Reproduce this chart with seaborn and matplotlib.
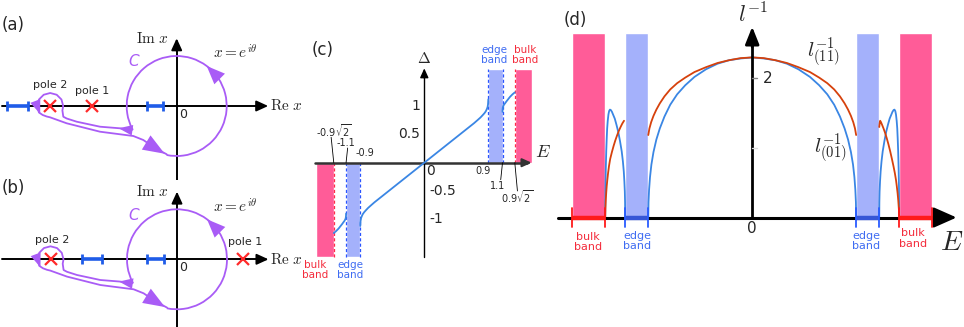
import numpy as np
import pandas as pd
import matplotlib
matplotlib.use("Agg")
import matplotlib.pyplot as plt
from matplotlib.patches import Arc
import seaborn as sns

sns.set_style("white")
plt.rcParams["font.family"] = ["DejaVu Sans"]
plt.rcParams["mathtext.fontset"] = "cm"

PURPLE = "#a95cf6"
POLE_RED = "#ff2a2a"
SEG_BLUE = "#1f5ce8"
PINK = "#ff5c98"
LAVENDER = "#a4b1fb"
TXT_RED = "#f42c3c"
TXT_BLUE = "#3f6cf2"
CURVE_BLUE = "#3a86e4"
CURVE_RED = "#d6410c"

# ---------------- data ----------------
# (a), (b): complex x plane, unit circle |x| = 1
poles_a = [-2.53, -1.70]
poles_b = [-2.53, 1.31]
cuts_a = [(-3.40, -2.97), (-0.60, -0.27)]
cuts_b = [(-1.90, -1.50), (-0.61, -0.26)]
circle_gap = (-101.7, 208.0)   # arc of C that is drawn (degrees)
# keyhole part of C: upper path -> loop round pole 2 -> lower path
key_x = [-0.883, -0.90, -1.134, -1.534, -2.00, -2.20, -2.268, -2.286, -2.27, -2.305, -2.40, -2.53,
         -2.66, -2.755, -2.79, -2.755, -2.68, -2.60, -2.534, -2.20, -1.534, -0.868, -0.668, -0.434, -0.20]
key_y = [-0.469, -0.48, -0.446, -0.414, -0.314, -0.25, -0.214, -0.089, 0.0, 0.13, 0.225, 0.26,
         0.225, 0.13, 0.0, -0.13, -0.18, -0.21, -0.226, -0.346, -0.514, -0.60, -0.68, -0.84, -0.966]

# (c): Delta(E)
edge_band = (0.9, 1.1)
bulk_band = (1.273, 1.52)
c_in_E = [-0.9, -0.899, -0.896, -0.89, -0.88, -0.865, -0.845, -0.82, -0.79, -0.75, -0.7, -0.6, -0.4, -0.2, 0.0,
          0.2, 0.4, 0.6, 0.7, 0.75, 0.79, 0.82, 0.845, 0.865, 0.88, 0.89, 0.896, 0.899, 0.9]
c_in_D = [-1.12, -1.07, -1.03, -0.985, -0.95, -0.91, -0.875, -0.84, -0.80, -0.755, -0.70, -0.60, -0.40, -0.20, 0.0,
          0.20, 0.40, 0.60, 0.70, 0.755, 0.80, 0.84, 0.875, 0.91, 0.95, 0.985, 1.03, 1.07, 1.12]
c_outR_E = [1.1, 1.101, 1.104, 1.11, 1.12, 1.135, 1.155, 1.18, 1.205, 1.24, 1.273]
c_outR_D = [0.90, 0.94, 0.975, 1.00, 1.025, 1.05, 1.085, 1.125, 1.165, 1.21, 1.245]
c_outL_E = [-1.273, -1.24, -1.205, -1.18, -1.155, -1.135, -1.12, -1.11, -1.104, -1.101, -1.1]
c_outL_D = [-1.245, -1.21, -1.165, -1.125, -1.085, -1.05, -1.025, -1.00, -0.975, -0.94, -0.90]
c_ticks = [1, 0.5, -0.5, -1]

# (d): inverse localisation lengths
d_band_top = 2.65
d_bulk = (1.273, 1.56)
b_in_E = [-0.9, -0.898, -0.893, -0.885, -0.873, -0.855, -0.83, -0.8, -0.76, -0.71, -0.65, -0.58, -0.5,
          -0.4, -0.3, -0.2, -0.1, 0.0, 0.1, 0.2, 0.3, 0.4, 0.5, 0.58, 0.65, 0.71, 0.76, 0.8, 0.83,
          0.855, 0.873, 0.885, 0.893, 0.898, 0.9]
b_in_v = [0.0, 0.22, 0.40, 0.58, 0.76, 0.94, 1.12, 1.28, 1.45, 1.62, 1.77, 1.90, 2.02,
          2.13, 2.21, 2.26, 2.285, 2.30, 2.285, 2.26, 2.21, 2.13, 2.02, 1.90, 1.77, 1.62, 1.45, 1.28, 1.12,
          0.94, 0.76, 0.58, 0.40, 0.22, 0.0]
r_in_E = [-0.9, -0.89, -0.875, -0.855, -0.83, -0.8, -0.76, -0.71, -0.65, -0.58, -0.5, -0.4, -0.3, -0.2,
          -0.1, 0.0, 0.1, 0.2, 0.3, 0.4, 0.5, 0.58, 0.65, 0.71, 0.76, 0.8, 0.83, 0.855, 0.875, 0.89, 0.9]
r_in_v = [1.185, 1.28, 1.37, 1.46, 1.55, 1.64, 1.74, 1.84, 1.93, 2.01, 2.09, 2.16, 2.22, 2.26,
          2.29, 2.30, 2.29, 2.26, 2.22, 2.16, 2.09, 2.01, 1.93, 1.84, 1.74, 1.64, 1.55, 1.46, 1.37, 1.28, 1.185]
b_outR_E = [1.1, 1.101, 1.103, 1.107, 1.112, 1.12, 1.13, 1.145, 1.16, 1.175, 1.19, 1.205, 1.215, 1.225,
            1.232, 1.239, 1.245, 1.251, 1.256, 1.26, 1.264, 1.268, 1.271, 1.273]
b_outR_v = [0.0, 0.22, 0.37, 0.52, 0.66, 0.81, 0.95, 1.10, 1.23, 1.33, 1.42, 1.48, 1.52, 1.545,
            1.55, 1.53, 1.48, 1.39, 1.28, 1.13, 0.95, 0.70, 0.42, 0.0]
b_outL_E = [-1.273, -1.271, -1.268, -1.264, -1.26, -1.256, -1.251, -1.245, -1.239, -1.232, -1.225, -1.215,
            -1.205, -1.19, -1.175, -1.16, -1.145, -1.13, -1.12, -1.112, -1.107, -1.103, -1.101, -1.1]
b_outL_v = [0.0, 0.42, 0.70, 0.95, 1.13, 1.28, 1.39, 1.48, 1.53, 1.55, 1.545, 1.52,
            1.48, 1.42, 1.33, 1.23, 1.10, 0.95, 0.81, 0.66, 0.52, 0.37, 0.22, 0.0]
r_outR_E = [1.1, 1.104, 1.108, 1.115, 1.125, 1.137, 1.15, 1.165, 1.18, 1.195, 1.21, 1.223, 1.235, 1.245,
            1.252, 1.259, 1.265, 1.27, 1.273]
r_outR_v = [1.30, 1.36, 1.39, 1.37, 1.33, 1.28, 1.22, 1.14, 1.05, 0.95, 0.84, 0.74, 0.64, 0.54,
            0.45, 0.35, 0.24, 0.12, 0.0]
r_outL_E = [-1.273, -1.271, -1.268, -1.264, -1.26, -1.254, -1.248, -1.24, -1.23, -1.215, -1.2, -1.185,
            -1.17, -1.155, -1.14, -1.125, -1.11]
r_outL_v = [0.0, 0.13, 0.25, 0.36, 0.45, 0.55, 0.64, 0.74, 0.84, 0.94, 1.03, 1.11,
            1.18, 1.245, 1.30, 1.35, 1.39]


def arrow(ax, start, end, color="black", lw=1.0, hl=0.6, hw=0.3, ms=10, z=3):
    ax.annotate("", xy=end, xytext=start,
                arrowprops=dict(arrowstyle=f"-|>,head_length={hl},head_width={hw}",
                                color=color, lw=lw, shrinkA=0, shrinkB=0,
                                mutation_scale=ms), zorder=z)


W, H = 964, 327
fig = plt.figure(figsize=(W / 100, H / 100), dpi=100)


def px_axes(x0, y0, x1, y1):
    return fig.add_axes([x0 / W, 1 - y1 / H, (x1 - x0) / W, (y1 - y0) / H])


# ---------------- (a) and (b) ----------------
def contour_panel(ax, poles, cuts, tag, pole_lbl, vbot):
    ax.set_axis_off()
    ax.plot([-3.5, 1.7], [0, 0], color="black", lw=1.4, zorder=1)
    arrow(ax, (1.6, 0), (1.83, 0), lw=1.4, hl=0.7, hw=0.32, ms=10)
    ax.plot([0, 0], [vbot, 1.2], color="black", lw=1.4, zorder=1)
    arrow(ax, (0, 1.1), (0, 1.354), lw=1.4, hl=0.7, hw=0.32, ms=10)
    for x0, x1 in cuts:
        ax.plot([x0, x1], [0, 0], color=SEG_BLUE, lw=2.6, solid_capstyle="butt", zorder=2)
        ax.plot([x0, x1], [0, 0], ls="none", marker="|", ms=7, mew=2, color=SEG_BLUE, zorder=2)
    ax.plot(poles, [0] * len(poles), ls="none", marker="x", ms=8, mew=1.6, color=POLE_RED, zorder=4)
    ax.add_patch(Arc((0, 0), 2, 2, theta1=circle_gap[0], theta2=circle_gap[1],
                     color=PURPLE, lw=1.3, zorder=3))
    ax.plot(key_x, key_y, color=PURPLE, lw=1.3, zorder=3, solid_joinstyle="round")
    arrow(ax, (0.79, 0.61), (0.60, 0.80), color=PURPLE, lw=0, hl=1.1, hw=0.45, ms=12)
    arrow(ax, (-0.66, -0.70), (-0.24, -0.955), color=PURPLE, lw=0, hl=1.3, hw=0.5, ms=12)
    arrow(ax, (-0.92, -0.48), (-1.16, -0.445), color=PURPLE, lw=0, hl=1.0, hw=0.38, ms=10)
    arrow(ax, (-2.79, 0.0), (-2.73, -0.16), color=PURPLE, lw=0, hl=1.0, hw=0.38, ms=10)
    ax.text(-3.27, 1.62 if tag == "(a)" else 1.43, tag, fontsize=12, ha="center", va="center")
    ax.text(-0.16, 1.35, r"$\mathrm{Im}\ x$", fontsize=11, ha="right", va="center")
    ax.text(1.87, 0, r"$\mathrm{Re}\ x$", fontsize=11, ha="left", va="center")
    ax.text(1.17, 1.06, r"$x=e^{i\theta}$", fontsize=11, ha="center", va="center")
    ax.text(-0.87, 0.88, "C", fontsize=11, color=PURPLE, ha="center", va="center", style="italic")
    ax.text(0.13, -0.16, "0", fontsize=9, ha="center", va="center")
    for (px, py), lbl in zip(pole_lbl, ["pole 2", "pole 1"]):
        ax.text(px, py, lbl, fontsize=8, ha="center", va="center")


axa = px_axes(0, 0, 300, 180)
axa.set_xlim(-3.534, 2.466)
axa.set_ylim(-1.48, 2.12)
contour_panel(axa, poles_a, cuts_a, "(a)", [(-2.53, 0.42), (-1.70, 0.31)], -1.48)

axb = px_axes(0, 180, 300, 327)
axb.set_xlim(-3.54, 2.46)
axb.set_ylim(-1.354, 1.586)
contour_panel(axb, poles_b, cuts_b, "(b)", [(-2.50, 0.39), (1.36, 0.35)], -1.354)

# ---------------- (c) ----------------
axc = px_axes(300, 0, 550, 327)
axc.set_xlim(-1.748, 1.768)
axc.set_ylim(-2.908, 2.88)
axc.set_axis_off()
top, bot = 1.66, -1.67
e0, e1 = edge_band
b0, b1 = bulk_band
axc.bar([-b1, -e1], [bot, bot], width=[b1 - b0, e1 - e0], align="edge",
        color=[PINK, LAVENDER], zorder=1)
axc.bar([b0, e0], [top, top], width=[b1 - b0, e1 - e0], align="edge",
        color=[PINK, LAVENDER], zorder=1)
for x, y0, y1, col in [(-b0, bot, 0, "#ff2a4a"), (-e1, bot, 0, "#2b55ff"), (-e0, bot, 0, "#2b55ff"),
                       (e0, 0, top, "#2b55ff"), (e1, 0, top, "#2b55ff"), (b0, 0, top, "#ff2a4a")]:
    axc.plot([x, x], [y0, y1], color=col, lw=0.9, ls=(0, (2.5, 1.8)), zorder=2)
axc.plot([-1.54, 1.45], [0, 0], color="#333333", lw=1.8, zorder=3)
arrow(axc, (1.4, 0), (1.51, 0), color="#333333", lw=1.5, hl=0.55, hw=0.25, ms=10, z=3)
axc.plot([0, 0], [bot, 1.55], color="black", lw=1.0, zorder=3)
arrow(axc, (0, 1.5), (0, 1.67), lw=1.0, hl=0.55, hw=0.25, ms=10)
for xs, ys in [(c_in_E, c_in_D), (c_outR_E, c_outR_D), (c_outL_E, c_outL_D)]:
    sns.lineplot(x=xs, y=ys, ax=axc, color=CURVE_BLUE, lw=1.3, sort=False, estimator=None, zorder=4)
for t in c_ticks:
    if t > 0:
        axc.text(-0.06, t, f"{t:g}", fontsize=10, ha="right", va="center")
    else:
        axc.text(0.07, t, f"{t:g}", fontsize=10, ha="left", va="center")
axc.text(0.094, -0.14, "0", fontsize=10, ha="center", va="center")
sq = dict(fontsize=7, ha="center", va="center", math_fontfamily="dejavusans")
axc.text(-1.268, 0.56, r"-0.9$\sqrt{2}$", **sq)
axc.text(-1.10, 0.345, "-1.1", **sq)
axc.text(-0.834, 0.17, "-0.9", **sq)
axc.text(0.826, -0.14, "0.9", **sq)
axc.text(1.037, -0.41, "1.1", **sq)
axc.text(1.30, -0.61, r"0.9$\sqrt{2}$", **sq)
for (xa, ya), (xb, yb) in [((-1.31, 0.45), (-b0, 0)), ((-1.078, 0.26), (-e1, 0)),
                           ((1.075, -0.30), (e1, 0)), ((1.31, -0.50), (b0, 0))]:
    axc.plot([xa, xb], [ya, yb], color="black", lw=0.6, zorder=3)
bl = dict(fontsize=7.5, ha="center", va="center", linespacing=1.05)
axc.text(-1.53, -1.9, "bulk\nband", color=TXT_RED, **bl)
axc.text(-1.037, -1.9, "edge\nband", color=TXT_BLUE, **bl)
axc.text(0.98, 1.906, "edge\nband", color=TXT_BLUE, **bl)
axc.text(1.415, 1.906, "bulk\nband", color=TXT_RED, **bl)
axc.text(-1.433, 2.0, "(c)", fontsize=12, ha="center", va="center")
axc.text(0, 1.84, r"$\Delta$", fontsize=11, ha="center", va="center")
axc.text(1.67, 0.19, r"$E$", fontsize=13, ha="center", va="center")

# ---------------- (d) ----------------
axd = px_axes(550, 0, 964, 327)
axd.set_xlim(-1.751, 1.834)
axd.set_ylim(-1.573, 3.125)
axd.set_axis_off()
d0, d1 = d_bulk
axd.bar([-d1, -e1, e0, d0], [d_band_top] * 4, width=[d1 - d0, e1 - e0, e1 - e0, d1 - d0],
        align="edge", color=[PINK, LAVENDER, LAVENDER, PINK], zorder=1)
curves = pd.DataFrame({
    "E": b_in_E + r_in_E + b_outR_E + b_outL_E + r_outR_E + r_outL_E,
    "v": b_in_v + r_in_v + b_outR_v + b_outL_v + r_outR_v + r_outL_v,
    "seg": (["b_in"] * len(b_in_E) + ["r_in"] * len(r_in_E) + ["b_oR"] * len(b_outR_E)
            + ["b_oL"] * len(b_outL_E) + ["r_oR"] * len(r_outR_E) + ["r_oL"] * len(r_outL_E)),
})
pal = {"b_in": CURVE_BLUE, "b_oR": CURVE_BLUE, "b_oL": CURVE_BLUE,
       "r_in": CURVE_RED, "r_oR": CURVE_RED, "r_oL": CURVE_RED}
sns.lineplot(data=curves, x="E", y="v", hue="seg", units="seg", palette=pal, sort=False,
             estimator=None, lw=1.3, legend=False, ax=axd, zorder=3)
axd.plot([-1.68, 1.6], [0, 0], color="black", lw=2.2, zorder=4)
arrow(axd, (1.55, 0), (1.77, 0), lw=2.0, hl=1.4, hw=0.62, ms=10, z=4)
axd.plot([0, 0], [0, 2.55], color="black", lw=2.0, zorder=4)
arrow(axd, (0, 2.45), (0, 2.74), lw=2.0, hl=1.05, hw=0.42, ms=10, z=4)
for tv, col in [(2, "#888888"), (1, "#dddddd")]:
    axd.plot([0, 0.045], [tv, tv], color=col, lw=1.0, zorder=4)
for (x0, x1), col, cap in [((-d1, -d0), "#ff1a1a", "#ff1a1a"), ((-e1, -e0), "#3656d6", "#2a5cff"),
                            ((e0, e1), "#3656d6", "#2a5cff"), ((d0, d1), "#ff1a1a", "#ff1a1a")]:
    axd.plot([x0, x1], [0, 0], color=col, lw=3.2, solid_capstyle="butt", zorder=5)
    axd.plot([x0, x0, np.nan, x1, x1], [0.135, -0.135, np.nan, 0.135, -0.135], color=cap, lw=1.3, zorder=5)
bd = dict(fontsize=8, ha="center", va="center", linespacing=1.05)
axd.text(-1.42, -0.35, "bulk\nband", color=TXT_RED, **bd)
axd.text(-0.998, -0.338, "edge\nband", color=TXT_BLUE, **bd)
axd.text(0.985, -0.338, "edge\nband", color=TXT_BLUE, **bd)
axd.text(1.39, -0.30, "bulk\nband", color=TXT_RED, **bd)
axd.text(0, -0.16, "0", fontsize=11, ha="center", va="center")
axd.text(0.137, 2.0, "2", fontsize=11, ha="center", va="center")
axd.text(1.725, -0.35, r"$E$", fontsize=20, ha="center", va="center")
axd.text(0.003, 2.92, r"$l^{-1}$", fontsize=16, ha="center", va="center")
axd.text(-1.53, 2.84, "(d)", fontsize=12, ha="center", va="center")
axd.text(0.613, 2.38, r"$l^{-1}_{(11)}$", fontsize=15, ha="center", va="center")
axd.text(0.674, 1.0, r"$l^{-1}_{(01)}$", fontsize=15, ha="center", va="center")

fig.savefig("out.png", dpi=100)
